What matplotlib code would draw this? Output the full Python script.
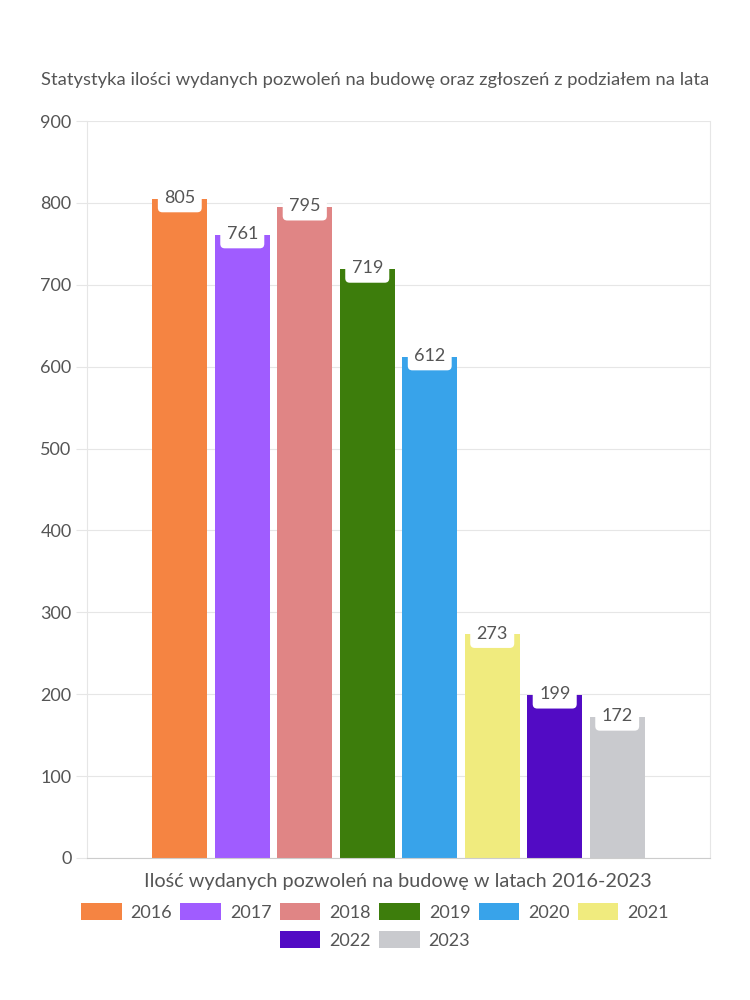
import matplotlib.pyplot as plt
from matplotlib.patches import Patch

plt.rcParams['font.family'] = ['Lato', 'DejaVu Sans']

years = ["2016", "2017", "2018", "2019", "2020", "2021", "2022", "2023"]
values = [805, 761, 795, 719, 612, 273, 199, 172]
colors = ["#F58442", "#A05CFF", "#E08585", "#3D7D0C",
          "#38A3EA", "#F0EB7E", "#520BC4", "#C9CACE"]

title = "Statystyka ilości wydanych pozwoleń na budowę oraz zgłoszeń z podziałem na lata"
xlabel = "Ilość wydanych pozwoleń na budowę w latach 2016-2023"

text_color = "#555555"

fig = plt.figure(figsize=(7.5, 10), dpi=100)
ax = fig.add_axes([87 / 750, 1 - 858 / 1000, 623 / 750, 737 / 1000])

pos = list(range(len(years)))
ax.bar(pos, values, width=0.88, color=colors, zorder=2)

for x, v in zip(pos, values):
    ax.text(x, v + 1, str(v), ha="center", va="center", fontsize=13,
            color=text_color, zorder=3,
            bbox=dict(boxstyle="round,pad=0.35,rounding_size=0.25",
                      fc="white", ec="none"))

ax.set_xlim(-1.485, 8.485)
ax.set_ylim(0, 900)
ax.set_yticks(range(0, 901, 100))
ax.set_xticks([])
ax.grid(axis="y", color="#e6e6e6", linewidth=0.8, zorder=0)
ax.tick_params(axis="y", length=8, color="#e6e6e6", labelsize=13,
               labelcolor=text_color, pad=3)
for s in ["left", "right", "top"]:
    ax.spines[s].set_color("#e6e6e6")
    ax.spines[s].set_linewidth(0.8)
ax.spines["top"].set_visible(False)
ax.spines["bottom"].set_color("#cccccc")

fig.text(0.5, 1 - 80 / 1000, title, ha="center", va="center",
         fontsize=13.2, color=text_color)
fig.text(398 / 750, 1 - 881 / 1000, xlabel, ha="center", va="center",
         fontsize=14.3, color=text_color)

# legenda w dwóch wierszach, oba wyśrodkowane
handles = [Patch(facecolor=c, label=y) for c, y in zip(colors, years)]
leg_kw = dict(loc="center", frameon=False, fontsize=13, handlelength=2.25,
              handleheight=1.1, columnspacing=0.45, handletextpad=0.5,
              labelcolor=text_color)
fig.legend(handles=handles[:6], ncol=6,
           bbox_to_anchor=(375 / 750, 1 - 912 / 1000), **leg_kw)
fig.legend(handles=handles[6:], ncol=2,
           bbox_to_anchor=(375 / 750, 1 - 940 / 1000), **leg_kw)

fig.savefig("out.png", dpi=100)
